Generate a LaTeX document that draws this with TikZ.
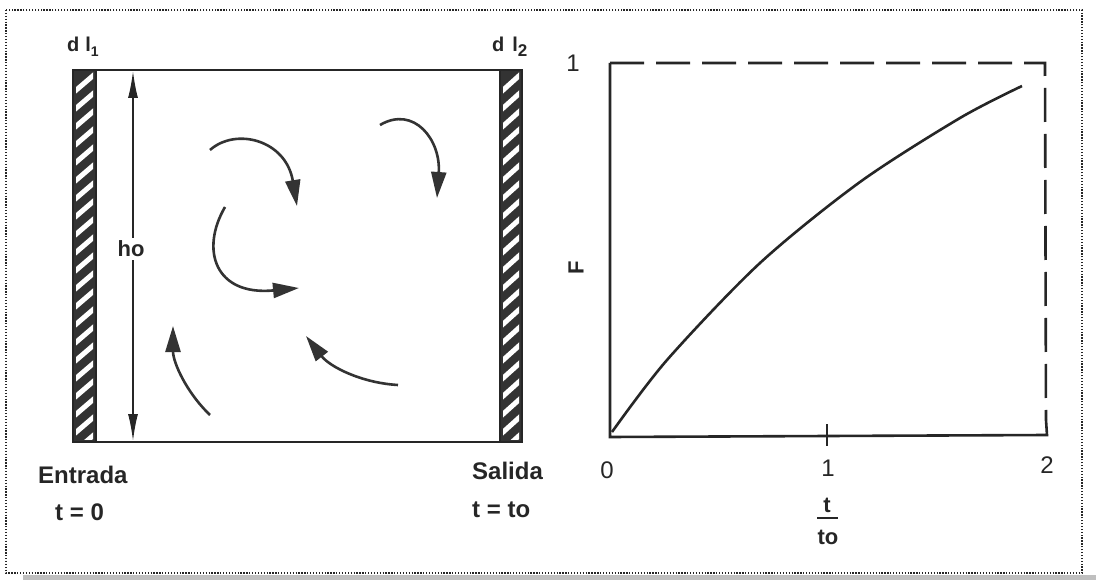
\documentclass[tikz,border=0pt]{standalone}
\usepackage{fontspec}
\setmainfont{Liberation Sans}
\usetikzlibrary{arrows.meta}
\begin{document}
\begin{tikzpicture}[x=1pt,y=-1pt,
  wall/.style={fill=black!80,draw=black!85,line width=1.2pt},
  ln/.style={line width=2.6pt,draw=black!85},
  flow/.style={line width=2.6pt,draw=black!80,-{Triangle[length=26pt,width=15pt,fill=black!80]}},
  dimline/.style={line width=1.6pt,draw=black!85},
  lbl/.style={font=\fontsize{24}{28}\selectfont\bfseries,text=black!85,inner sep=0pt},
  small/.style={font=\fontsize{20}{24}\selectfont\bfseries,text=black!85,inner sep=0pt,anchor=west},
  num/.style={font=\fontsize{24}{28}\selectfont,text=black!85,inner sep=0pt},
]
\useasboundingbox (0,0) rectangle (1096,580);
\fill[white] (0,0) rectangle (1096,580);
% shadow bar and dotted frame
\fill[black!25] (23,575) rectangle (1096,580);
\draw[line width=1.3pt, dash pattern=on 1.3pt off 1.6pt, black!85] (6,10) rectangle (1082,573);

% ---------- left: tank ----------
\draw[wall] (73,70) rectangle (96,442);
\begin{scope}
  \clip (76,73) rectangle (93,439);
  \foreach \y in {82,100,...,460} \draw[white,line width=5pt] (74,\y+10) -- (95,\y-8);
\end{scope}
\draw[wall] (500,70) rectangle (522,442);
\begin{scope}
  \clip (503,73) rectangle (519,439);
  \foreach \y in {82,100,...,460} \draw[white,line width=5pt] (501,\y+10) -- (521,\y-8);
\end{scope}
\draw[ln] (73,70) -- (522,70);
\draw[ln] (73,442) -- (522,442);

% height dimension
\coordinate (htop) at (133,71);
\coordinate (hbot) at (133,441);
\node[lbl, font=\fontsize{22}{26}\selectfont\bfseries, fill=white, inner sep=3pt] (ho) at (131,249) {ho};
\draw[dimline, {Latex[length=27pt,width=10pt]}-] (htop) -- (ho.north -| htop);
\draw[dimline, -{Latex[length=27pt,width=10pt]}] (ho.south -| hbot) -- (hbot);

% flow arrows
\coordinate (a1) at (210,150); \coordinate (a2) at (297,206);
\draw[flow] (a1) .. controls (236,127) and (286,140) .. (a2);
\coordinate (b1) at (380,125); \coordinate (b2) at (437,198);
\draw[flow] (b1) .. controls (414,105) and (441,140) .. (b2);
\coordinate (c1) at (225,207); \coordinate (c2) at (299,288);
\draw[flow] (c1) .. controls (200,250) and (215,296) .. (c2);
\coordinate (d1) at (210,415); \coordinate (d2) at (173,326);
\draw[flow] (d1) .. controls (186,392) and (173,362) .. (d2);
\coordinate (e1) at (398,385); \coordinate (e2) at (306,336);
\draw[flow] (e1) .. controls (362,383) and (330,367) .. (e2);

% tank labels
\node[small] (dl1) at (67,47) {d\hspace{6pt}l\raisebox{-5pt}{\fontsize{14}{16}\selectfont 1}};
\node[small] (dl2) at (492,47) {d\hspace{8pt}l\raisebox{-5pt}{\fontsize{17}{20}\selectfont 2}};
\node[lbl, anchor=west] (entrada) at (38,475) {Entrada};
\node[lbl, anchor=west] (t0) at (55,512) {t = 0};
\node[lbl, anchor=west] (salida) at (472,471) {Salida};
\node[lbl, anchor=west] (tto) at (472,510) {t = to};

% ---------- right: F curve ----------
\coordinate (o) at (610,437);
\coordinate (tl) at (610,63);
\coordinate (tr) at (1045,63);
\coordinate (brd) at (1046,420);
\coordinate (br) at (1047,435);
\draw[ln] (tl) -- (o) -- (br) -- (brd);
\draw[ln, dash pattern=on 34pt off 12pt] (tl) -- (tr) -- (brd);
\draw[line width=2.2pt, black!85] (827,424) -- (827,446);
\draw[ln] plot[smooth] coordinates {(612,432) (667,360) (760,263) (860,182) (960,118) (1022,86)};

\node[num] (y1) at (573,63) {1};
\node[lbl, font=\fontsize{22}{26}\selectfont\bfseries, rotate=90] (F) at (576,268) {F};
\node[num] (x0) at (607,470) {0};
\node[num] (x1) at (828,468) {1};
\node[num] (x2) at (1047,465) {2};
\node[lbl, font=\fontsize{22}{26}\selectfont\bfseries] (tnum) at (827,505) {t};
\node[lbl, font=\fontsize{22}{26}\selectfont\bfseries] (tden) at (828,537) {to};
\draw[line width=1.6pt, black!85] (817,518) -- (838,518);
\end{tikzpicture}
\end{document}
